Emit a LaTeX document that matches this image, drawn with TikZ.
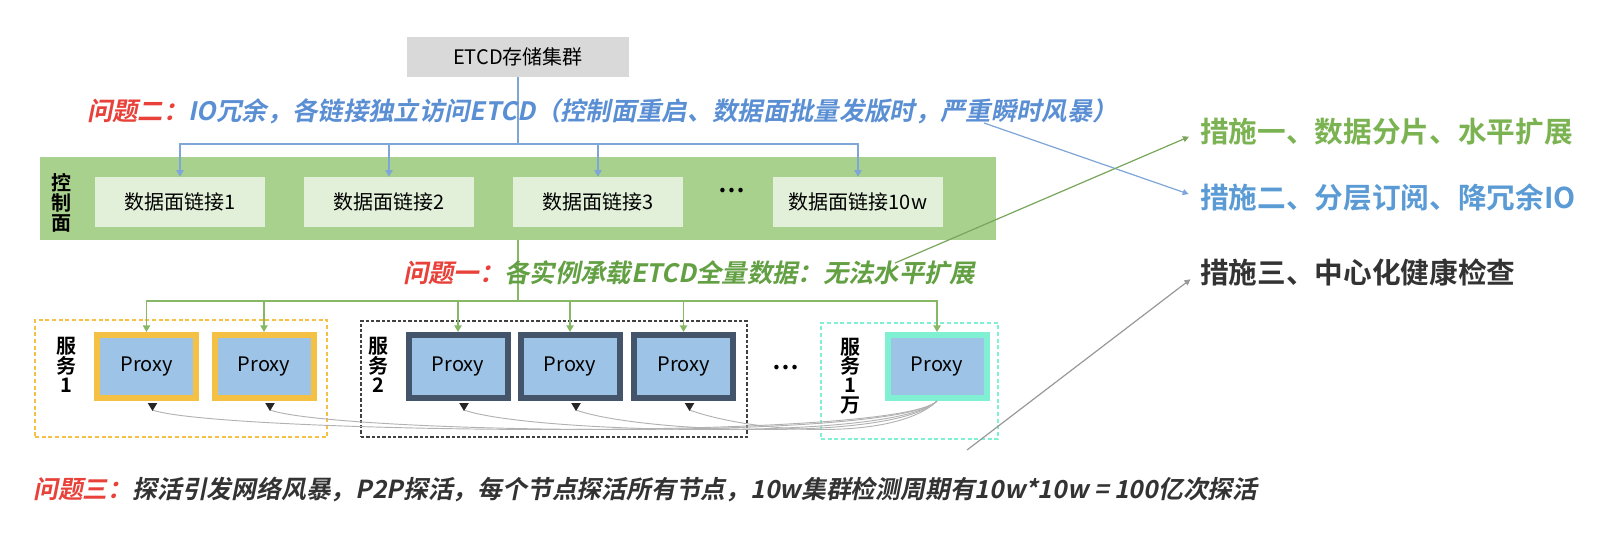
\documentclass[tikz,border=0pt]{standalone}
\usepackage{fontspec}
\setmainfont{Noto Sans CJK SC}[BoldFont=* Bold]
\newfontfamily\slfont{Noto Sans CJK SC}[BoldFont=* Bold, FakeSlant=0.2]
\usetikzlibrary{arrows.meta}

\definecolor{etcdgray}{HTML}{D9D9D9}
\definecolor{bandgreen}{HTML}{A9D18E}
\definecolor{linkgreen}{HTML}{E2F0D9}
\definecolor{proxyblue}{HTML}{9DC3E6}
\definecolor{pyellow}{HTML}{F4C145}
\definecolor{pslate}{HTML}{44546A}
\definecolor{paqua}{HTML}{7FF0D2}
\definecolor{lineblue}{HTML}{7EA6D8}
\definecolor{linegreen}{HTML}{86B865}
\definecolor{qred}{HTML}{E8413A}
\definecolor{qblue}{HTML}{5B8FD4}
\definecolor{qgreen}{HTML}{63A043}
\definecolor{mgreen}{HTML}{7CB352}
\definecolor{mblue}{HTML}{5B9BD5}
\definecolor{darktext}{HTML}{333333}

\tikzset{
  linkbox/.style={fill=linkgreen, minimum width=128pt, minimum height=37.5pt,
    font=\fontsize{15}{15}\selectfont},
  proxy/.style={fill=proxyblue, line width=4.5pt, minimum width=74.25pt,
    minimum height=47.25pt, font=\fontsize{15}{15}\selectfont},
  svcbox/.style={line width=1pt, minimum width=#1},
  vlabel/.style={align=center, inner sep=0pt, font=\bfseries\fontsize{15}{15}\selectfont},
  qtext/.style={anchor=west, inner sep=0pt, font=\slfont\bfseries\fontsize{19}{19}\selectfont},
  mtext/.style={anchor=west, inner sep=0pt, font=\bfseries\fontsize{21.5}{21.5}\selectfont},
  busblue/.style={draw=lineblue, line width=1.1pt, -{Triangle[width=5.5pt,length=5pt]}},
  busgreen/.style={draw=linegreen, line width=1.1pt, -{Triangle[width=5.5pt,length=5pt]}},
  diag/.style={line width=0.9pt, shorten >=9pt, -{Triangle[width=4.5pt,length=4.5pt]}},
  probe/.style={draw=black!30, line width=0.7pt,
    -{Triangle[width=7pt,length=6pt,color=black!85]}},
  dots/.style={inner sep=0pt, font=\bfseries\fontsize{18}{18}\selectfont}
}

\begin{document}
\begin{tikzpicture}[x=0.75pt, y=-0.75pt]
    \useasboundingbox (0,0) rectangle (1601,533);

    % ETCD cluster and control plane
    \node[fill=etcdgray, minimum width=167pt, minimum height=30pt,
      font=\fontsize{15}{15}\selectfont] (etcd) at (518,57) {ETCD存储集群};
    \node[fill=bandgreen, minimum width=717pt, minimum height=62pt] (cp) at (518,198.5) {};
    \node[vlabel] (cpl) at (61,203) {控\\制\\面};
    \foreach \n/\x/\t in {1/180/1, 2/389/2, 3/598/3, 4/858/10w}
      \node[linkbox] (l\n) at (\x,202) {数据面链接\t};
    \node[dots] (ldots) at (732,191) {…};

    % Links fetch from ETCD
    \coordinate (bbus) at (518,144);
    \foreach \n in {1,...,4}
      \draw[busblue] (etcd.south) -- (bbus) -| (l\n.north);

    % Services and proxies
    \node[svcbox=219pt, draw=pyellow, dash pattern=on 3pt off 2pt,
      minimum height=87.75pt] (s1) at (181,378.5) {};
    \node[svcbox=289.5pt, draw=black!75, line width=1.4pt, dash pattern=on 2.5pt off 1.5pt,
      minimum height=87pt] (s2) at (554,379) {};
    \node[svcbox=132.75pt, draw=paqua, dash pattern=on 3pt off 2pt,
      minimum height=87pt] (s3) at (909.5,381) {};
    \node[vlabel, font=\bfseries\fontsize{15}{14.5}\selectfont] (s1l) at (66,365) {服\\务\\1};
    \node[vlabel, font=\bfseries\fontsize{15}{14.5}\selectfont] (s2l) at (378,365) {服\\务\\2};
    \node[vlabel, font=\bfseries\fontsize{15}{14.5}\selectfont] (s3l) at (850,376) {服\\务\\1\\万};
    \foreach \n/\x/\s in {1/146.5/pyellow, 2/264/pyellow, 3/458/pslate,
                          4/570/pslate, 5/683.5/pslate, 6/937/paqua}
      \node[proxy, draw=\s] (p\n) at (\x,366.5) {Proxy};
    \node[dots] (pdots) at (786,368) {…};

    % Control plane pushes to proxies
    \coordinate (gbus) at (518,301);
    \foreach \n in {1,...,6}
      \draw[busgreen] (cp.south) -- (gbus) -| (p\n.north);

    % P2P health probes
    \foreach \n in {1,...,5}
      \draw[probe] (p6.south) .. controls (895,442) and ([shift={(70,32)}]p\n.south)
        .. ([shift={(6,9)}]p\n.south) -- ++(0,1);

    % Problems
    \node[qtext, text=qblue] (q2) at (87,111)
      {\textcolor{qred}{问题二：}IO冗余，各链接独立访问ETCD（控制面重启、数据面批量发版时，严重瞬时风暴）};
    \node[qtext, text=qgreen] (q1) at (403,273)
      {\textcolor{qred}{问题一：}各实例承载ETCD全量数据：无法水平扩展};
    \node[qtext, text=darktext, font=\slfont\bfseries\fontsize{18.6}{18.6}\selectfont] (q3) at (33,489)
      {\textcolor{qred}{问题三：}探活引发网络风暴，P2P探活，每个节点探活所有节点，10w集群检测周期有10w*10w = 100亿次探活};

    % Measures
    \node[mtext, text=mgreen] (m1) at (1200,132) {措施一、数据分片、水平扩展};
    \node[mtext, text=mblue] (m2) at (1200,198) {措施二、分层订阅、降冗余IO};
    \node[mtext, text=darktext] (m3) at (1200,272) {措施三、中心化健康检查};

    \coordinate (q2tail) at (984,123);
    \coordinate (q1tail) at (895,263);
    \coordinate (q3tail) at (967,450);
    \draw[diag, draw=lineblue, fill=lineblue] (q2tail) -- (m2.west);
    \draw[diag, draw=linegreen!90!black, fill=linegreen] (q1tail) -- (m1.west);
    \draw[diag, draw=black!40, fill=black!40] (q3tail) -- (m3.west);

\end{tikzpicture}
\end{document}
